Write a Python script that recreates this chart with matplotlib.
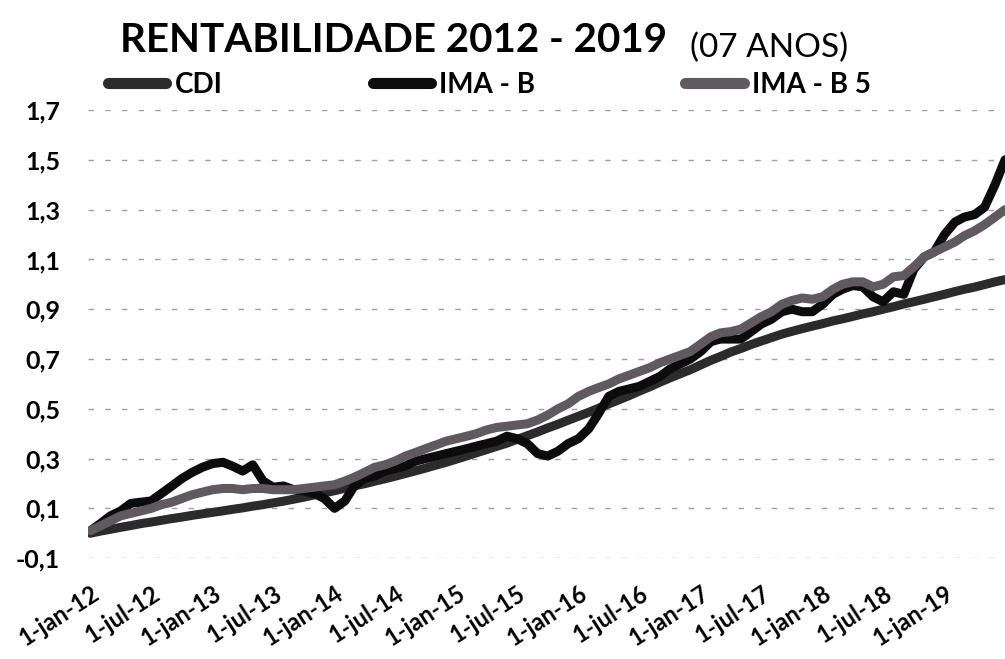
import numpy as np
import pandas as pd
import matplotlib
matplotlib.use("Agg")
import matplotlib.pyplot as plt
from matplotlib.transforms import ScaledTranslation

plt.rcParams["font.family"] = ["Lato", "DejaVu Sans"]

# =============================================================================
# DATA (cumulative return, monthly, jan-2012 .. jul-2019)
# =============================================================================

START_MONTH = "2012-01-01"

CDI = [
    0.000, 0.009, 0.016, 0.024, 0.031, 0.039, 0.045, 0.052, 0.059, 0.065, 0.072, 0.078,
    0.084, 0.090, 0.096, 0.102, 0.109, 0.115, 0.122, 0.129, 0.137, 0.145, 0.154, 0.162,
    0.171, 0.181, 0.190, 0.199, 0.209, 0.219, 0.229, 0.240, 0.251, 0.262, 0.274, 0.285,
    0.298, 0.311, 0.323, 0.336, 0.349, 0.362, 0.377, 0.392, 0.407, 0.423, 0.438, 0.454,
    0.470, 0.486, 0.502, 0.520, 0.536, 0.553, 0.571, 0.588, 0.607, 0.624, 0.641, 0.657,
    0.676, 0.695, 0.710, 0.728, 0.742, 0.758, 0.772, 0.786, 0.800, 0.811, 0.822, 0.832,
    0.842, 0.853, 0.861, 0.871, 0.881, 0.890, 0.900, 0.910, 0.921, 0.930, 0.940, 0.950,
    0.960, 0.971, 0.980, 0.989, 0.999, 1.010, 1.019,
]

IMA_B = [
    0.01, 0.04, 0.07, 0.09, 0.12, 0.125, 0.13, 0.16, 0.19, 0.22, 0.245, 0.265,
    0.28, 0.285, 0.27, 0.25, 0.275, 0.21, 0.185, 0.19, 0.175, 0.17, 0.16, 0.14,
    0.10, 0.13, 0.19, 0.22, 0.23, 0.25, 0.26, 0.27, 0.29, 0.30, 0.31, 0.32,
    0.33, 0.34, 0.35, 0.36, 0.37, 0.39, 0.38, 0.36, 0.32, 0.31, 0.33, 0.36,
    0.38, 0.42, 0.48, 0.55, 0.57, 0.58, 0.59, 0.61, 0.63, 0.66, 0.68, 0.70,
    0.73, 0.77, 0.78, 0.78, 0.78, 0.81, 0.84, 0.86, 0.89, 0.90, 0.89, 0.89,
    0.92, 0.96, 0.98, 0.995, 0.99, 0.95, 0.93, 0.97, 0.96, 1.06, 1.11, 1.13,
    1.20, 1.25, 1.27, 1.28, 1.31, 1.40, 1.50,
]

IMA_B5 = [
    0.01, 0.03, 0.05, 0.07, 0.08, 0.09, 0.10, 0.115, 0.125, 0.14, 0.155, 0.165,
    0.175, 0.18, 0.18, 0.175, 0.18, 0.18, 0.175, 0.175, 0.175, 0.18, 0.185, 0.19,
    0.195, 0.21, 0.225, 0.245, 0.265, 0.275, 0.29, 0.31, 0.325, 0.34, 0.355, 0.37,
    0.38, 0.39, 0.40, 0.415, 0.425, 0.43, 0.435, 0.44, 0.455, 0.475, 0.50, 0.52,
    0.55, 0.57, 0.585, 0.60, 0.62, 0.635, 0.65, 0.665, 0.685, 0.70, 0.715, 0.73,
    0.76, 0.79, 0.805, 0.81, 0.82, 0.845, 0.87, 0.89, 0.92, 0.935, 0.945, 0.94,
    0.95, 0.98, 1.00, 1.01, 1.01, 0.99, 1.00, 1.03, 1.035, 1.07, 1.11, 1.13,
    1.15, 1.17, 1.195, 1.215, 1.24, 1.27, 1.30,
]

Y_TICKS = [-0.1, 0.1, 0.3, 0.5, 0.7, 0.9, 1.1, 1.3, 1.5, 1.7]
Y_TICK_LABELS = ["-0,1", "0,1", "0,3", "0,5", "0,7", "0,9", "1,1", "1,3", "1,5", "1,7"]

X_TICKS = [
    "2012-01-01", "2012-07-01", "2013-01-01", "2013-07-01", "2014-01-01",
    "2014-07-01", "2015-01-01", "2015-07-01", "2016-01-01", "2016-07-01",
    "2017-01-01", "2017-07-01", "2018-01-01", "2018-07-01", "2019-01-01",
]
X_TICK_LABELS = [
    "1-jan-12", "1-jul-12", "1-jan-13", "1-jul-13", "1-jan-14",
    "1-jul-14", "1-jan-15", "1-jul-15", "1-jan-16", "1-jul-16",
    "1-jan-17", "1-jul-17", "1-jan-18", "1-jul-18", "1-jan-19",
]

SERIES_NAMES = ["CDI", "IMA - B", "IMA - B 5"]
SERIES_COLORS = ["#2b2b2b", "#0c0c0c", "#5e5a5e"]


# =============================================================================
# PLOT
# =============================================================================

dates = pd.date_range(START_MONTH, periods=len(CDI), freq="MS")

fig = plt.figure(figsize=(10.05, 6.59), dpi=100)
ax = fig.add_axes([0.0876, 0.153, 0.9124, 0.680])

for name, values, color in zip(SERIES_NAMES, [CDI, IMA_B, IMA_B5], SERIES_COLORS):
    ax.plot(dates, values, color=color, linewidth=6.5, label=name,
            solid_capstyle="round", solid_joinstyle="round")

ax.set_ylim(-0.1, 1.7)
ax.set_xlim(pd.Timestamp("2011-12-25"), dates[-1])

ax.set_yticks(Y_TICKS)
ax.set_yticklabels(Y_TICK_LABELS, fontsize=18, fontweight="bold")
ax.yaxis.grid(True, linestyle=(0, (4, 8)), color="#a0a0a0", linewidth=1.0)
ax.set_axisbelow(True)

ax.set_xticks([pd.Timestamp(d) for d in X_TICKS])
ax.set_xticklabels(X_TICK_LABELS, fontsize=17, fontweight="bold",
                   rotation=33, ha="right", rotation_mode="anchor")
# Shift rotated labels a bit right so their end sits past the tick.
shift = ScaledTranslation(4 / 100, 0, fig.dpi_scale_trans)
for lbl in ax.get_xticklabels():
    lbl.set_transform(lbl.get_transform() + shift)

ax.tick_params(axis="y", length=0, pad=20)
ax.tick_params(axis="x", length=0, pad=17)
for spine in ax.spines.values():
    spine.set_visible(False)

fig.text(120 / 1005, 1 - 52 / 659, "RENTABILIDADE 2012 - 2019",
         fontsize=29, fontweight="bold", ha="left", va="baseline")
fig.text(690 / 1005, 1 - 57 / 659, "(07 ANOS)",
         fontsize=24, ha="left", va="baseline")

leg = ax.legend(loc="upper left", bbox_to_anchor=(108 / 1005, 1 - 72 / 659),
                bbox_transform=fig.transFigure, ncol=3, frameon=False,
                prop={"size": 20, "weight": "bold"},
                handlelength=2.1, handletextpad=0.3, columnspacing=5.4,
                borderaxespad=0, borderpad=0)
for h in leg.get_lines():
    h.set_linewidth(8)

fig.savefig("out.png", dpi=100)
